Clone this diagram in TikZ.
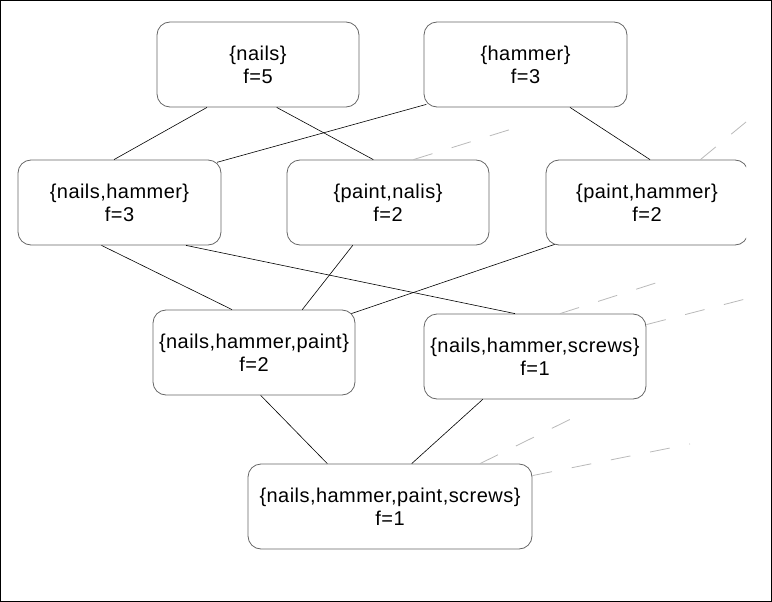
\documentclass[tikz,border=0pt]{standalone}
\usepackage{fontspec}
\setmainfont[LetterSpace=2.3]{Liberation Sans}
\begin{document}
\begin{tikzpicture}[x=1pt,y=-1pt,
  itemset/.style={draw=gray!80!black, line width=0.8pt, rounded corners=13pt, fill=white,
    align=center, minimum height=85pt, inner sep=0pt, font=\fontsize{20}{23}\selectfont},
  link/.style={line width=0.6pt, black},
  faint/.style={gray!55, line width=0.8pt, dash pattern=on 20pt off 20pt}]
\useasboundingbox (0,0) rectangle (772,602);
\draw[line width=1pt] (0.5,0.5) rectangle (771.5,601.5);

% itemsets
\node[itemset, minimum width=202pt] (nails) at (258,64.5) {\{nails\}\\f=5};
\node[itemset, minimum width=203pt] (hammer) at (525.5,64.5) {\{hammer\}\\f=3};
\node[itemset, minimum width=203pt] (nh) at (119.5,202.5) {\{nails,hammer\}\\f=3};
\node[itemset, minimum width=202pt] (pn) at (388,202.5) {\{paint,nalis\}\\f=2};
\begin{scope}
\clip (0,0) rectangle (746,602);
\node[itemset, minimum width=202pt] (ph) at (647,202.5) {\{paint,hammer\}\\f=2};
\end{scope}
\node[itemset, minimum width=202pt] (nhp) at (254,352.5) {\{nails,hammer,paint\}\\f=2};
\node[itemset, minimum width=222pt] (nhs) at (535,356.5) {\{nails,hammer,screws\}\\f=1};
\node[itemset, minimum width=284pt] (nhps) at (390,506.5) {\{nails,hammer,paint,screws\}\\f=1};

% links
\draw[link] ([xshift=-51pt]nails.south) -- ([xshift=-5.5pt]nh.north);
\draw[link] ([xshift=18.7pt]nails.south) -- ([xshift=-14.7pt]pn.north);
\draw[link] ([xshift=2.7pt,yshift=3pt]hammer.south west) -- ([xshift=-4.3pt,yshift=-2.7pt]nh.north east);
\draw[link] ([xshift=44.5pt]hammer.south) -- ([xshift=3pt]ph.north);
\draw[link] ([xshift=-18pt]nh.south) -- ([xshift=-22pt]nhp.north);
\draw[link] ([xshift=66.5pt]nh.south) -- ([xshift=-20pt]nhs.north);
\draw[link] ([xshift=-35.3pt]pn.south) -- ([xshift=48.3pt]nhp.north);
\draw[link] ([xshift=9pt,yshift=1pt]ph.south west) -- ([xshift=-4pt,yshift=-4pt]nhp.north east);
\draw[link] ([xshift=6.7pt]nhp.south) -- ([xshift=-62.7pt]nhps.north);
\draw[link] ([xshift=-52.3pt]nhs.south) -- ([xshift=21.7pt]nhps.north);

% links leaving the picture
\coordinate (out1) at (515,128);
\coordinate (out2) at (746,122);
\coordinate (out3) at (665,280);
\coordinate (out4) at (757,296);
\coordinate (out5) at (577,416);
\coordinate (out6) at (690,444);
\draw[faint] ([xshift=-76pt]pn.north east) -- (out1);
\draw[faint] ([xshift=-48pt]ph.north east) -- (out2);
\draw[faint] ([xshift=25pt]nhs.north) -- (out3);
\draw[faint] ([yshift=-11pt]nhs.north east) -- (out4);
\draw[faint] ([xshift=90pt]nhps.north) -- (out5);
\draw[faint] ([yshift=-12pt]nhps.north east) -- (out6);
\end{tikzpicture}
\end{document}
